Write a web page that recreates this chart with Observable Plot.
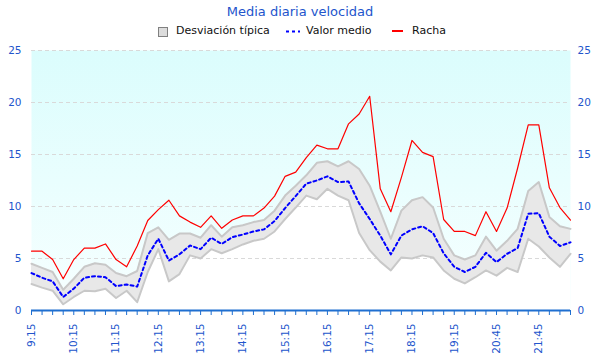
<!DOCTYPE html>
<html><head><meta charset="utf-8">
<script src="https://cdn.jsdelivr.net/npm/d3@7"></script>
<script src="https://cdn.jsdelivr.net/npm/@observablehq/plot@0.6"></script>
<style>
body{margin:0;background:#fff;font-family:"DejaVu Sans",sans-serif;}
#wrap{position:relative;width:600px;height:360px;overflow:hidden;}
#title{position:absolute;top:3px;left:0;width:600px;text-align:center;font-size:13px;color:#2255cc;line-height:18px;}
.leg{position:absolute;font-size:11px;color:#111;top:24px;line-height:14px;white-space:nowrap;}
#chart{position:absolute;top:41px;left:0;}
</style></head><body>
<div id="wrap">
<div id="title">Media diaria velocidad</div>
<div style="position:absolute;left:158px;top:27px;width:8px;height:8px;background:#dcdcdc;border:1px solid #808080;"></div>
<div class="leg" style="left:176px">Desviación típica</div>
<svg style="position:absolute;left:286px;top:30px" width="14" height="3"><line x1="0" y1="1.5" x2="14" y2="1.5" stroke="#0000ff" stroke-width="2" stroke-dasharray="3,3"/></svg>
<div class="leg" style="left:306px">Valor medio</div>
<div style="position:absolute;left:392px;top:30px;width:11px;height:2px;background:#ff0000;"></div>
<div class="leg" style="left:412px">Racha</div>
<div id="chart"></div>
</div>
<script>
const horas = ["9:15","9:30","9:45","10:00","10:15","10:30","10:45","11:00","11:15","11:30","11:45","12:00",
  "12:15","12:30","12:45","13:00","13:15","13:30","13:45","14:00","14:15","14:30","14:45","15:00",
  "15:15","15:30","15:45","16:00","16:15","16:30","16:45","17:00","17:15","17:30","17:45","18:00",
  "18:15","18:30","18:45","19:00","19:15","19:30","19:45","20:30","20:45","21:00","21:15","21:30",
  "21:45","22:00","22:15","22:30"];
const etiquetasX = ["9:15","10:15","11:15","12:15","13:15","14:15","15:15","16:15","17:15","18:15","19:15","20:45","21:45"];
const ticksY = [0,5,10,15,20,25];
const valorMedio = [3.6,3.15,2.8,1.3,2.1,3.15,3.3,3.2,2.35,2.5,2.3,5.3,
  6.9,4.8,5.4,6.25,5.9,7.0,6.4,7.05,7.3,7.6,7.8,8.6,
  9.85,11.0,12.2,12.5,12.9,12.35,12.4,10.3,8.8,7.2,5.4,7.2,
  7.8,8.1,7.45,5.5,4.2,3.7,4.2,5.55,4.65,5.45,6.0,9.3,
  9.35,7.1,6.2,6.55];
const desvSup = [4.5,4.1,3.7,2.0,3.05,4.2,4.55,4.4,3.6,3.3,3.8,7.45,
  8.0,6.8,7.4,7.4,7.0,8.2,7.1,8.0,8.2,8.5,8.7,9.6,
  11.05,12.0,13.0,14.2,14.35,13.85,14.35,13.6,12.0,9.5,6.9,9.6,
  10.6,10.9,9.9,6.9,5.3,4.9,5.3,7.1,5.75,6.7,7.85,11.5,
  12.35,9.0,8.1,7.85];
const desvInf = [2.55,2.2,1.9,0.6,1.3,1.9,1.85,2.1,1.2,1.9,0.8,3.7,
  5.9,2.8,3.5,5.3,5.0,5.9,5.5,5.9,6.35,6.7,6.9,7.6,
  8.8,9.9,11.05,10.7,11.7,11.05,10.6,7.45,5.8,4.7,3.85,5.1,
  5.0,5.3,5.1,3.85,3.05,2.6,3.2,3.85,3.35,4.1,3.7,6.9,
  6.15,5.1,4.2,5.45];
const racha = [5.7,5.7,4.9,3.05,4.9,6.0,6.0,6.4,4.9,4.2,6.2,8.65,
  9.7,10.6,9.1,8.5,8.0,9.1,7.9,8.7,9.1,9.1,9.85,11.0,
  12.9,13.3,14.7,15.9,15.55,15.55,17.95,18.9,20.6,11.7,9.5,12.8,
  16.35,15.2,14.8,8.75,7.6,7.6,7.2,9.5,7.6,9.85,13.7,17.85,
  17.85,11.8,9.9,8.7];

const datos = horas.map((h, i) => ({h, medio: valorMedio[i], sup: desvSup[i], inf: desvInf[i], racha: racha[i]}));
const azul = "#2255cc", eje = "#1f6fd0";

const svg = Plot.plot({
  width: 600, height: 319,
  marginTop: 9, marginBottom: 50, marginLeft: 31, marginRight: 30,
  style: {fontFamily: "DejaVu Sans", fontSize: "10.5px", background: "transparent", overflow: "visible"},
  x: {type: "point", domain: horas, padding: 0, round: false},
  y: {domain: [0, 25]},
  marks: [
    Plot.frame({fill: "url(#fondo)", stroke: "none"}),
    Plot.areaY(datos, {x: "h", y1: 0, y2: "inf", fill: "white"}),
    Plot.gridY(ticksY.filter(t => t > 0), {stroke: "#d9d9d9", strokeOpacity: 1, strokeDasharray: "4,3"}),
    Plot.areaY(datos, {x: "h", y1: "inf", y2: "sup", fill: "#e8e8e8"}),
    Plot.lineY(datos, {x: "h", y: "sup", stroke: "#c8c8c8", strokeWidth: 2}),
    Plot.lineY(datos, {x: "h", y: "inf", stroke: "#c8c8c8", strokeWidth: 2}),
    Plot.lineY(datos, {x: "h", y: "medio", stroke: "#0000ff", strokeWidth: 2, strokeDasharray: "3,3"}),
    Plot.lineY(datos, {x: "h", y: "racha", stroke: "#ff0000", strokeWidth: 1.2}),
    Plot.ruleY([0], {stroke: eje, strokeWidth: 2}),
    Plot.axisX({ticks: horas, tickFormat: d => etiquetasX.includes(d) ? d : "", tickRotate: -90,
      tickSize: 5, tickPadding: 8, stroke: eje, fill: azul, label: null}),
    Plot.axisY({anchor: "left", ticks: ticksY, tickSize: 0, tickPadding: 10, fill: azul, label: null}),
    Plot.axisY({anchor: "right", ticks: ticksY, tickSize: 0, tickPadding: 7, fill: azul, label: null})
  ]
});
const ns = "http://www.w3.org/2000/svg";
const defs = document.createElementNS(ns, "defs");
const grad = document.createElementNS(ns, "linearGradient");
grad.setAttribute("id", "fondo");
grad.setAttribute("x1", "0"); grad.setAttribute("y1", "0");
grad.setAttribute("x2", "0"); grad.setAttribute("y2", "1");
[["0", "#dbfdfd"], ["1", "#f7ffff"]].forEach(([o, c]) => {
  const s = document.createElementNS(ns, "stop");
  s.setAttribute("offset", o); s.setAttribute("stop-color", c);
  grad.appendChild(s);
});
defs.appendChild(grad);
svg.insertBefore(defs, svg.firstChild);
document.getElementById("chart").appendChild(svg);
</script>
</body></html>
